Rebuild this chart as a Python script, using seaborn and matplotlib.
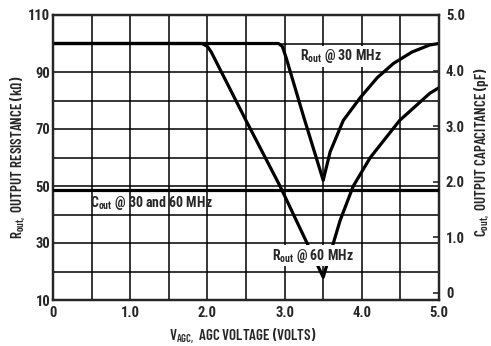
import matplotlib
matplotlib.use("Agg")
import matplotlib.pyplot as plt
import seaborn as sns
import pandas as pd

# Data
vagc_30 = [0.0, 2.92, 2.97, 3.02, 3.25, 3.5, 3.59, 3.76, 3.98, 4.2, 4.41, 4.65, 4.88, 5.0]
rout_30 = [100, 100, 99, 95, 74, 52, 62, 73, 81, 88, 93, 97, 99.5, 100]
vagc_60 = [0.0, 1.93, 2.0, 2.05, 2.5, 2.94, 3.5, 3.72, 3.89, 4.11, 4.49, 4.88, 5.0]
rout_60 = [100, 100, 99, 97, 73, 50, 18, 38, 50, 60, 73, 82.5, 84.5]
vagc_c = [0.0, 5.0]
cout = [1.85, 1.85]

x_ticks = [0, 1, 2, 3, 4, 5]
x_labels = ["0", "1.0", "2.0", "3.0", "4.0", "5.0"]
yl_ticks = [10, 30, 50, 70, 90, 110]
yr_ticks = [0, 1, 2, 3, 4, 5]
yr_labels = ["0", "1.0", "2.0", "3.0", "4.0", "5.0"]

sns.set_style("white")
FAM_T = ["Roboto Condensed", "DejaVu Sans"]
FAM_L = ["Barlow Condensed", "Roboto Condensed", "DejaVu Sans"]
plt.rcParams["font.family"] = FAM_T
plt.rcParams["font.weight"] = "bold"
plt.rcParams["mathtext.fontset"] = "custom"
plt.rcParams["mathtext.rm"] = "Roboto Condensed:bold"
plt.rcParams["mathtext.default"] = "regular"

fig = plt.figure(figsize=(4.91, 3.46), dpi=100)
ax = fig.add_axes([53/491, 1-300/346, (439-53)/491, 285/346])

df30 = pd.DataFrame({"v": vagc_30, "r": rout_30})
df60 = pd.DataFrame({"v": vagc_60, "r": rout_60})
dfc = pd.DataFrame({"v": vagc_c, "c": cout})

ax.set_xlim(0, 5)
ax.set_ylim(10, 110)
for xv in [0.5 * i for i in range(1, 10)]:
    ax.axvline(xv, color="black", lw=1.1, zorder=1)
for yv in range(20, 110, 10):
    ax.axhline(yv, color="black", lw=1.1, zorder=1)

sns.lineplot(data=df30, x="v", y="r", ax=ax, color="black", lw=2.3, zorder=3)
sns.lineplot(data=df60, x="v", y="r", ax=ax, color="black", lw=2.3, zorder=3)

ax.set_xticks(x_ticks)
ax.set_xticklabels(x_labels, fontsize=10.5, fontweight="bold", family=FAM_T)
ax.set_yticks(yl_ticks)
ax.set_yticklabels([str(t) for t in yl_ticks], fontsize=10.5, fontweight="bold", family=FAM_T)
ax.tick_params(axis="x", length=0, pad=4)
ax.tick_params(axis="y", length=0, pad=2)
for s in ax.spines.values():
    s.set_linewidth(1.6)
    s.set_color("black")

ax.set_xlabel(r"V$_{\mathregular{AGC,}}$ AGC VOLTAGE (VOLTS)", fontsize=10.8, fontweight=600, family=FAM_L)
ax.xaxis.set_label_coords(0.492, -0.128)
ax.xaxis.label.set_verticalalignment("center")
ax.set_ylabel(r"R$_{\mathregular{out},}$ OUTPUT RESISTANCE (kΩ)", fontsize=10.8, fontweight=600, family=FAM_L)
ax.yaxis.set_label_coords(-0.091, 0.5)
ax.yaxis.label.set_verticalalignment("center")

ax2 = ax.twinx()
ax2.set_ylim(-0.13, 5.0)
sns.lineplot(data=dfc, x="v", y="c", ax=ax2, color="black", lw=2.3, zorder=3)
ax2.set_yticks(yr_ticks)
ax2.set_yticklabels(yr_labels, fontsize=10.5, fontweight="bold", family=FAM_T)
ax2.tick_params(length=4, direction="in", pad=5, width=1.2)
ax2.set_ylabel(r"C$_{\mathregular{out},}$ OUTPUT CAPACITANCE (pF)", fontsize=10.8, fontweight=600, family=FAM_L)
ax2.yaxis.set_label_coords(1.111, 0.52)
ax2.yaxis.label.set_verticalalignment("center")
ax2.set_xlim(0, 5)
for s in ax2.spines.values():
    s.set_linewidth(1.6)

ax.text(3.2, 95.5, r"R$_{\mathregular{out}}$ @ 30 MHz", fontsize=10, fontweight="bold", family=FAM_T,
        va="center", ha="left", bbox=dict(facecolor="white", edgecolor="none", pad=1), zorder=5)
ax.text(2.84, 25.5, r"R$_{\mathregular{out}}$ @ 60 MHz", fontsize=10, fontweight="bold", family=FAM_T,
        va="center", ha="left", bbox=dict(facecolor="white", edgecolor="none", pad=1), zorder=5)
ax.text(0.48, 44, r"C$_{\mathregular{out}}$ @ 30 and 60 MHz", fontsize=10, fontweight="bold", family=FAM_T,
        va="center", ha="left", zorder=5)

fig.savefig("out.png", dpi=100)
